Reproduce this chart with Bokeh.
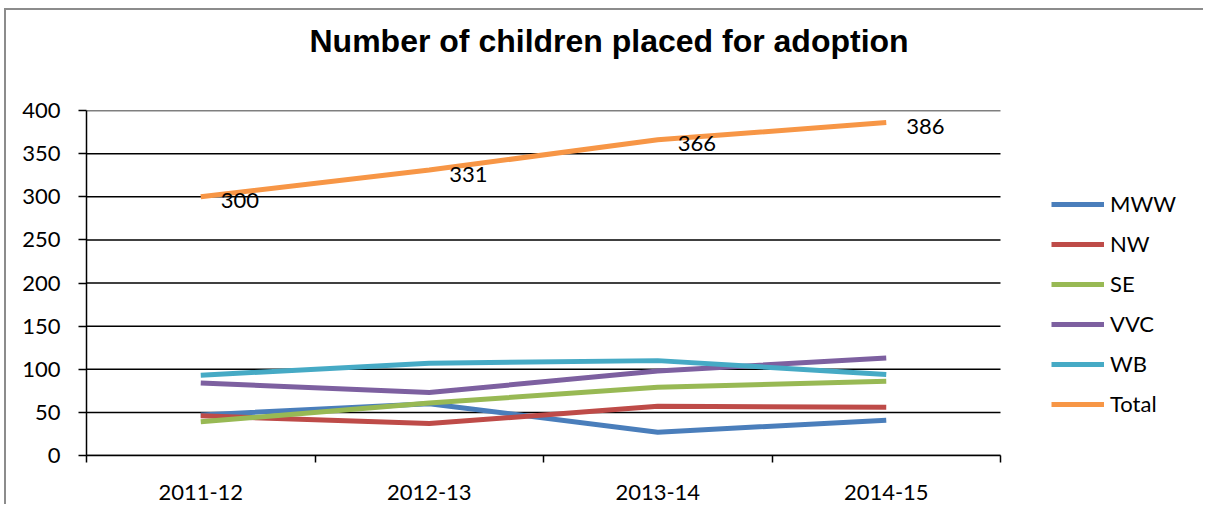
from bokeh.plotting import figure
from bokeh.models import FixedTicker, Legend, LegendItem, Range1d, ColumnDataSource, Title
from bokeh.core.properties import value
from bokeh.embed import file_html
from bokeh.resources import INLINE

categories = ["2011-12", "2012-13", "2013-14", "2014-15"]
MWW = [47, 60, 27, 41]
NW = [46, 37, 57, 56]
SE = [39, 61, 79, 86]
VVC = [84, 73, 98, 113]
WB = [93, 107, 110, 94]
Total = [300, 331, 366, 386]
y_ticks = [0, 50, 100, 150, 200, 250, 300, 350, 400]

series = [("MWW", MWW, "#4A7EBB"), ("NW", NW, "#BE4B48"), ("SE", SE, "#98B954"),
          ("VVC", VVC, "#7D60A0"), ("WB", WB, "#46AAC5"), ("Total", Total, "#F79646")]

xs = [i + 1 for i in range(len(categories))]
x_lo, x_hi = xs[0] - 0.5, xs[-1] + 0.5

FONT = "Lato"

# frame is widened to the right so the legend can sit beside the category area
FRAME_PX_CATS = 914.0
FRAME_PX_ALL = 1106.0
x_end = x_lo + (x_hi - x_lo) * FRAME_PX_ALL / FRAME_PX_CATS

p = figure(width=1199, height=496, output_backend="svg", toolbar_location=None,
           title=None,
           x_range=Range1d(x_lo, x_end), y_range=Range1d(0, 400),
           min_border_left=80, min_border_right=13, min_border_top=100, min_border_bottom=51)
p.styles = {"border-top": "2px solid #8c8c8c", "border-left": "2px solid #8c8c8c",
            "margin-left": "4px", "margin-top": "8px"}
p.outline_line_color = None
p.background_fill_color = "white"
p.border_fill_color = "white"

# spacer between title and plot area (closest to the frame)
p.add_layout(Title(text=" ", text_font_size="10px", standoff=39), "above")
p.add_layout(Title(text="Number of children placed for adoption",
                   text_font="Liberation Sans", text_font_style="bold",
                   text_font_size="32px", align="left", offset=223, standoff=0,
                   text_color="black"), "above")

# horizontal gridlines limited to the category area
n = len(y_ticks)
p.segment(x0=[x_lo] * n, y0=y_ticks, x1=[x_hi] * n, y1=y_ticks,
          line_color="black", line_width=1.5)

items = []
for name, vals, col in series:
    r = p.line(xs, vals, line_color=col, line_width=5)
    items.append(LegendItem(label=name, renderers=[r]))

src = ColumnDataSource(dict(x=xs, y=Total, t=[str(v) for v in Total]))
p.text(x="x", y="y", text="t", source=src, x_offset=20, y_offset=4,
       text_font=value(FONT), text_font_size="22px", text_baseline="middle",
       text_align="left", text_color="black")

# x axis
p.xaxis.bounds = (x_lo, x_hi)
p.xaxis.ticker = FixedTicker(ticks=xs, minor_ticks=[x - 0.5 for x in xs] + [x_hi])
p.xaxis.major_label_overrides = {x: c for x, c in zip(xs, categories)}
p.xaxis.major_tick_out = 0
p.xaxis.major_tick_in = 0
p.xaxis.minor_tick_out = 7
p.xaxis.minor_tick_in = 0
p.xaxis.minor_tick_line_color = "black"
p.xaxis.minor_tick_line_width = 1.5
p.xaxis.axis_line_color = "black"
p.xaxis.axis_line_width = 1.5
p.xaxis.major_label_standoff = 22
p.xaxis.major_label_text_font = FONT
p.xaxis.major_label_text_font_size = "22px"
p.xaxis.major_label_text_color = "black"

# y axis
p.yaxis.ticker = FixedTicker(ticks=y_ticks, minor_ticks=[])
p.yaxis.major_tick_out = 8
p.yaxis.major_tick_in = 0
p.yaxis.major_tick_line_color = "black"
p.yaxis.major_tick_line_width = 1.5
p.yaxis.axis_line_color = "black"
p.yaxis.axis_line_width = 1.5
p.yaxis.major_label_standoff = 18
p.yaxis.major_label_text_font = FONT
p.yaxis.major_label_text_font_size = "22px"
p.yaxis.major_label_text_color = "black"

p.xgrid.grid_line_color = None
p.ygrid.grid_line_color = None

legend = Legend(items=items, location=(965, 38), orientation="vertical",
                glyph_width=53, glyph_height=20, label_height=20, spacing=13,
                padding=0, margin=0, label_standoff=6,
                label_text_font=FONT, label_text_font_size="22px",
                label_text_color="black", border_line_color=None,
                background_fill_alpha=0)
p.add_layout(legend, "center")

open("out.html", "w").write(file_html(p, INLINE))
